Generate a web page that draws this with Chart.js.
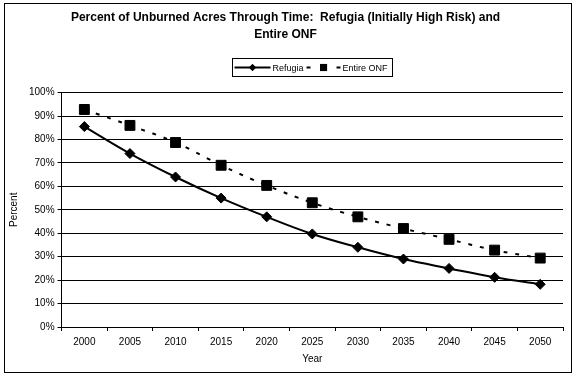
<!DOCTYPE html>
<html>
<head>
<meta charset="utf-8">
<script src="https://cdn.jsdelivr.net/npm/chart.js@4"></script>
<style>
  body { margin: 0; background: #fff; }
  #wrap { width: 577px; height: 379px; }
</style>
</head>
<body>
<div id="wrap"><canvas id="myChart" width="577" height="379"></canvas></div>
<script>
let years = ['2000', '2005', '2010', '2015', '2020', '2025', '2030', '2035', '2040', '2045', '2050'];
let refugia = [85.5, 74, 64, 55, 47, 39.7, 34, 29, 25, 21.2, 18.2];
let entireOnf = [92.8, 86, 78.7, 69, 60.4, 53, 47, 42, 37.4, 32.8, 29.4];
let yTicks = [0, 10, 20, 30, 40, 50, 60, 70, 80, 90, 100];

const FONT = 'Liberation Sans, Arial, sans-serif';

//white background + outer frame
const frame = {
    id: 'frame',
    beforeDraw(chart) {
        const c = chart.ctx;
        c.save();
        c.fillStyle = '#fff';
        c.fillRect(0, 0, chart.width, chart.height);
        c.strokeStyle = '#000';
        c.lineWidth = 1;
        c.strokeRect(4.5, 3.5, 567, 369);
        c.restore();
    }
};

//legend drawn by hand: line + marker, boxed
const boxLegend = {
    id: 'boxLegend',
    afterDraw(chart) {
        const c = chart.ctx;
        const x0 = 232.5, y0 = 58.5, w = 160, h = 18;
        c.save();
        c.strokeStyle = '#000';
        c.lineWidth = 1;
        c.strokeRect(x0, y0, w, h);
        c.font = '9px ' + FONT;
        c.fillStyle = '#000';
        c.textBaseline = 'middle';
        let cy = y0 + h / 2;
        let x = x0 + 2;
        chart.data.datasets.forEach(ds => {
            let len = ds.legendLen;
            c.lineWidth = 2;
            c.setLineDash(ds.legendDash || []);
            c.beginPath();
            c.moveTo(x, cy);
            c.lineTo(x + len, cy);
            c.stroke();
            c.setLineDash([]);
            Chart.helpers.drawPoint(c, {pointStyle: ds.pointStyle, radius: ds.legendRadius, rotation: 0}, x + len / 2, cy);
            c.fill();
            c.fillText(ds.label, x + len + 2, cy + 1);
            x += len + 2 + c.measureText(ds.label).width + 3;
        });
        c.restore();
    }
};

var ctx = document.getElementById('myChart').getContext('2d');
var chart = new Chart(ctx, {
    type: 'line',
    data: {
        labels: years,
        datasets: [{
            label: 'Refugia',
            data: refugia,
            borderColor: '#000',
            backgroundColor: '#000',
            borderWidth: 2,
            tension: 0.4,
            pointStyle: 'rectRot',
            pointRadius: 5,
            pointBorderWidth: 1,
            legendRadius: 3.5,
            legendLen: 36
        }, {
            label: 'Entire ONF',
            data: entireOnf,
            borderColor: '#000',
            backgroundColor: '#000',
            borderWidth: 2,
            borderDash: [4, 8],
            tension: 0.4,
            pointStyle: 'rect',
            pointRadius: 7,
            pointBorderWidth: 1,
            legendRadius: 5,
            legendLen: 34,
            legendDash: [4, 11]
        }]
    },
    options: {
        responsive: false,
        animation: false,
        layout: { padding: { left: 8, right: 14, top: 0, bottom: 14 } },
        plugins: {
            legend: { display: false },
            tooltip: { enabled: false },
            title: {
                display: true,
                text: ['Percent of Unburned Acres Through Time:  Refugia (Initially High Risk) and', 'Entire ONF'],
                color: '#000',
                font: { family: FONT, size: 12, weight: 'bold', lineHeight: 1.4 },
                padding: { top: 9, bottom: 50 }
            }
        },
        scales: {
            x: {
                offset: true,
                grid: {
                    offset: true,
                    drawOnChartArea: false,
                    drawTicks: true,
                    tickLength: 4,
                    color: '#000'
                },
                border: { color: '#000', width: 1 },
                ticks: { color: '#000', font: { family: FONT, size: 10 }, padding: 5, maxRotation: 0 },
                title: { display: true, text: 'Year', color: '#000', font: { family: FONT, size: 10 }, padding: { top: 0, bottom: 0 } }
            },
            y: {
                min: 0,
                max: 100,
                afterBuildTicks(axis) { axis.ticks = yTicks.map(v => ({ value: v })); },
                grid: { color: '#000', lineWidth: 1, tickLength: 4 },
                border: { color: '#000', width: 1 },
                ticks: { color: '#000', font: { family: FONT, size: 10 }, padding: 3, callback: v => v + '%' },
                title: { display: true, text: 'Percent', color: '#000', font: { family: FONT, size: 10 }, padding: { top: 0, bottom: 6 } }
            }
        }
    },
    plugins: [frame, boxLegend]
});
</script>
</body>
</html>
